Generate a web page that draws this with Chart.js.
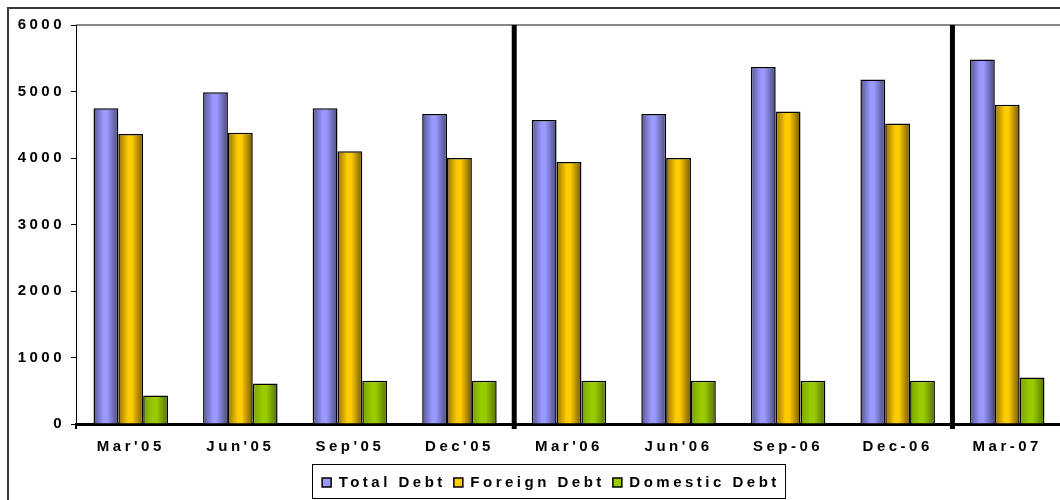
<!DOCTYPE html>
<html>
<head>
<meta charset="utf-8">
<title>Debt</title>
<script src="https://cdn.jsdelivr.net/npm/chart.js@4.4.1/dist/chart.umd.min.js"></script>
<style>
  html, body { margin: 0; padding: 0; background: #fff; overflow: hidden; }
  #wrap { position: relative; width: 1062px; height: 500px; }
</style>
</head>
<body>
<div id="wrap"><canvas id="debtChart"></canvas></div>
<script>
	var quarters = ["Mar'05", "Jun'05", "Sep'05", "Dec'05", "Mar'06", "Jun'06", "Sep-06", "Dec-06", "Mar-07"];
	var totalDebt = [4750, 4990, 4750, 4660, 4570, 4660, 5370, 5180, 5480];
	var foreignDebt = [4360, 4380, 4100, 4000, 3940, 4000, 4700, 4520, 4800];
	var domesticDebt = [430, 610, 650, 650, 650, 650, 650, 650, 700];
	var yTicks = [0, 1000, 2000, 3000, 4000, 5000, 6000];
	// year breaks: a heavy line after these category indexes
	var yearBreaks = [3, 7];
	var seriesColors = ['#9999ff', '#ffcc00', '#99cc00'];

	var catPct = 0.68;
	var fontBold = { family: 'Liberation Sans', size: 15, weight: 'bold' };

	// shaded bars: dark edge, light middle, dark edge
	function shade(dark, light, darkRight) {
		return function(c) {
			var chart = c.chart;
			var x = chart.scales && chart.scales.x;
			if (!chart.chartArea || !x || c.dataIndex === undefined) {
				return light;
			}
			var catW = (x.right - x.left) / quarters.length;
			var groupW = catW * catPct;
			var barW = groupW / 3;
			var left = x.getPixelForValue(c.dataIndex) - groupW / 2 + c.datasetIndex * barW;
			var g = chart.ctx.createLinearGradient(left, 0, left + barW, 0);
			g.addColorStop(0, dark);
			g.addColorStop(0.4, light);
			g.addColorStop(0.55, light);
			g.addColorStop(1, darkRight);
			return g;
		};
	}

	function setSpacing(chart) {
		chart.ctx.letterSpacing = '3.5px';
	}

	var spacingPlugin = {
		id: 'spacing',
		beforeUpdate: setSpacing,
		beforeLayout: setSpacing,
		beforeDraw: setSpacing,
		afterLayout: function(chart) {
			// legend sits a little right of the canvas centre
			chart.legend.left += 20;
			chart.legend.right += 20;
		}
	};

	var framePlugin = {
		id: 'frame',
		beforeDraw: function(chart) {
			var ctx = chart.ctx;
			var a = chart.chartArea;
			ctx.save();
			// outer frame
			ctx.strokeStyle = '#3a3a3a';
			ctx.lineWidth = 2;
			ctx.strokeRect(8, 8, chart.width + 20, chart.height + 20);
			// top edge of plot
			ctx.strokeStyle = '#888';
			ctx.lineWidth = 2;
			ctx.beginPath();
			ctx.moveTo(a.left, a.top);
			ctx.lineTo(chart.width, a.top);
			ctx.stroke();
			ctx.restore();
		},
		afterDraw: function(chart) {
			var ctx = chart.ctx;
			var a = chart.chartArea;
			var x = chart.scales.x;
			ctx.save();
			ctx.strokeStyle = '#000';
			ctx.lineWidth = 5;
			yearBreaks.forEach(function(i) {
				var px = (x.getPixelForValue(i) + x.getPixelForValue(i + 1)) / 2;
				ctx.beginPath();
				ctx.moveTo(px, a.top);
				ctx.lineTo(px, a.bottom + 5);
				ctx.stroke();
			});
			ctx.lineWidth = 2;
			ctx.beginPath();
			ctx.moveTo(a.left, a.bottom);
			ctx.lineTo(a.left, a.bottom + 5);
			ctx.stroke();

			// box round the legend
			var boxes = chart.legend.legendHitBoxes;
			if (boxes && boxes.length) {
				var first = boxes[0], last = boxes[boxes.length - 1];
				var l = first.left - 10;
				var r = last.left + last.width + 5;
				ctx.strokeStyle = '#000';
				ctx.lineWidth = 1;
				ctx.strokeRect(Math.round(l) + 0.5, chart.legend.top - 2.5, Math.round(r - l), chart.height - chart.legend.top + 1);
			}
			ctx.restore();
		}
	};

	var config = {
		type: 'bar',
		data: {
			labels: quarters,
			datasets: [{
				label: 'Total Debt',
				data: totalDebt,
				backgroundColor: shade('#55558f', '#9999ff', '#48487a'),
				borderColor: '#000',
				borderWidth: 1.5
			},
			{
				label: 'Foreign Debt',
				data: foreignDebt,
				backgroundColor: shade('#987200', '#ffcc00', '#735600'),
				borderColor: '#000',
				borderWidth: 1.5
			},
			{
				label: 'Domestic Debt',
				data: domesticDebt,
				backgroundColor: shade('#7aa000', '#99cc00', '#547000'),
				borderColor: '#000',
				borderWidth: 1.5
			}]
		},
		options: {
			responsive: true,
			maintainAspectRatio: false,
			devicePixelRatio: 1,
			animation: false,
			datasets: {
				bar: { categoryPercentage: catPct, barPercentage: 1 }
			},
			layout: {
				padding: { left: 0, right: 0, top: 25, bottom: 0 }
			},
			plugins: {
				tooltip: { enabled: false },
				legend: {
					position: 'bottom',
					labels: {
						boxWidth: 9,
						boxHeight: 9,
						padding: 8,
						color: '#000',
						font: fontBold,
						generateLabels: function(chart) {
							var items = Chart.defaults.plugins.legend.labels.generateLabels(chart);
							items.forEach(function(item, i) {
								item.fillStyle = seriesColors[i];
								item.strokeStyle = '#000';
								item.lineWidth = 1.5;
							});
							return items;
						}
					}
				}
			},
			scales: {
				x: {
					grid: { display: false, drawTicks: false },
					border: { display: true, color: '#000', width: 3 },
					ticks: { color: '#000', font: fontBold, padding: 14, maxRotation: 0 },
					afterFit: function(scale) { scale.height = 43; }
				},
				y: {
					min: 0,
					max: 6000,
					afterBuildTicks: function(scale) {
						scale.ticks = yTicks.map(function(v) { return { value: v }; });
					},
					grid: { display: true, drawOnChartArea: false, drawTicks: true, tickLength: 5, color: '#000' },
					border: { display: true, color: '#000', width: 1 },
					ticks: {
						color: '#000',
						font: fontBold,
						padding: 6,
						callback: function(value) { return String(value); }
					},
					afterFit: function(scale) { scale.width = 76; }
				}
			}
		},
		plugins: [spacingPlugin, framePlugin]
	};

	var myChart = new Chart(document.getElementById('debtChart'), config);
</script>
</body>
</html>
